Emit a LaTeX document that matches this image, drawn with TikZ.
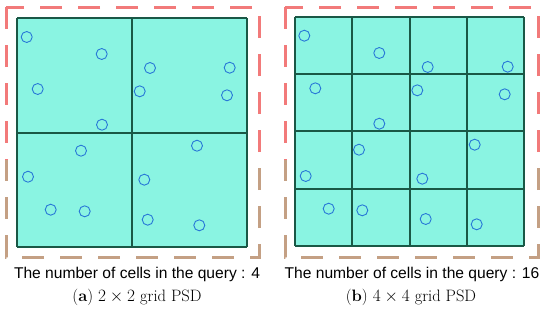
\documentclass[tikz,border=0pt]{standalone}
\usepackage{fontspec}
\newfontfamily\notefont{Liberation Sans}
\definecolor{cellcyan}{RGB}{138,244,226}
\definecolor{gridgreen}{RGB}{26,88,70}
\definecolor{dotblue}{RGB}{40,120,215}
\definecolor{dashred}{RGB}{242,122,122}
\definecolor{dashtan}{RGB}{196,160,132}
\begin{document}
\begin{tikzpicture}[x=1pt, y=-1pt,
    cellarea/.style={fill=cellcyan},
    gridline/.style={draw=gridgreen, line width=1.8pt},
    dot/.style={draw=dotblue, line width=0.9pt},
    frame/.style={line width=3pt, dash pattern=on 22pt off 16pt},
    note/.style={font=\notefont\fontsize{15.6}{18}\selectfont, inner sep=0pt},
    captext/.style={font=\fontsize{16.5}{19}\selectfont, inner sep=0pt}]
  \useasboundingbox (0,0) rectangle (550,319);
  \begin{scope}
    \clip (0,0) rectangle (550,160);
    \draw[frame, dashred] (6,7) rectangle (259,257);
    \draw[frame, dashred] (285,7) rectangle (538,257);
  \end{scope}
  \begin{scope}
    \clip (0,160) rectangle (550,319);
    \draw[frame, dashtan] (6,7) rectangle (259,257);
    \draw[frame, dashtan] (285,7) rectangle (538,257);
  \end{scope}
  \fill[cellarea] (17,18) rectangle (247,247);
  \foreach \x in {17,132,247}
    \draw[gridline] (\x,18) -- (\x,247);
  \foreach \y in {18,133,247}
    \draw[gridline] (17,\y) -- (247,\y);
  \foreach \p in {(26.7,37),(101.7,54),(37.7,89),(102,124.7),(150,68),(229.7,67.7),(139.7,91.3),(227,95.3),(81,150.7),(28,176.7),(50.7,209.7),(84.7,211.3),(197,145.7),(144.3,179.7),(147.7,219.7),(199.3,225.3)}
    \draw[dot] \p circle[radius=5.5pt];
  \fill[cellarea] (295,17) rectangle (524,246);
  \foreach \x in {295,352,410,467,524}
    \draw[gridline] (\x,17) -- (\x,246);
  \foreach \y in {17,74,131,189,246}
    \draw[gridline] (295,\y) -- (524,\y);
  \foreach \p in {(304.3,35.7),(379.3,53),(427.7,67),(507.7,66.7),(315.3,88.3),(417.3,90.3),(504.7,94.3),(379.3,123.7),(359,149.7),(474.7,144.7),(305.7,176),(422.3,178.7),(328.7,208.7),(362.3,210.3),(425.7,219),(476.7,224.3)}
    \draw[dot] \p circle[radius=5.5pt];
  \node[note] (querya) at (137,274) {The number of cells in the query : 4};
  \node[note] (queryb) at (412,274) {The number of cells in the query : 16};
  \node[captext] (capa) at (137,297) {(\textbf{a}) $2\times2$ grid PSD};
  \node[captext] (capb) at (411,297) {(\textbf{b}) $4\times4$ grid PSD};
\end{tikzpicture}
\end{document}
